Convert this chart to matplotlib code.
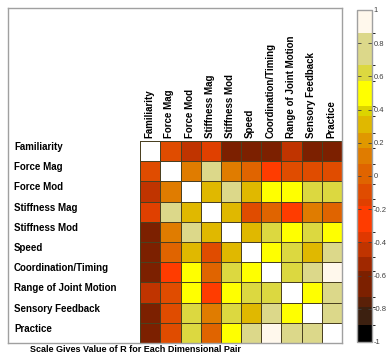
import numpy as np
import matplotlib
matplotlib.use("Agg")
import matplotlib.pyplot as plt
from matplotlib.colors import ListedColormap, BoundaryNorm
from matplotlib.cm import ScalarMappable

# dimension names, same order for rows and columns
dims = ["Familiarity", "Force Mag", "Force Mod", "Stiffness Mag", "Stiffness Mod",
        "Speed", "Coordination/Timing", "Range of Joint Motion", "Sensory Feedback",
        "Practice"]

# correlation coefficient R for each dimension pair
r_values = [
    [1.00, -0.08, -0.44, -0.16, -0.65, -0.65, -0.65, -0.44, -0.65, -0.65],
    [-0.08, 1.00, 0.12, 0.75, 0.12, 0.02, -0.25, -0.10, -0.06, -0.08],
    [-0.44, 0.12, 1.00, 0.30, 0.75, 0.30, 0.50, 0.50, 0.62, 0.62],
    [-0.16, 0.75, 0.30, 1.00, 0.30, -0.08, -0.04, -0.25, 0.12, 0.02],
    [-0.65, 0.12, 0.75, 0.30, 1.00, 0.30, 0.62, 0.50, 0.62, 0.50],
    [-0.65, 0.02, 0.30, -0.08, 0.30, 1.00, 0.50, 0.62, 0.30, 0.75],
    [-0.65, -0.25, 0.50, -0.04, 0.62, 0.50, 1.00, 0.62, 0.75, 0.92],
    [-0.44, -0.10, 0.50, -0.25, 0.50, 0.62, 0.62, 1.00, 0.50, 0.75],
    [-0.65, -0.06, 0.62, 0.12, 0.62, 0.30, 0.75, 0.50, 1.00, 0.75],
    [-0.65, -0.08, 0.62, 0.02, 0.50, 0.75, 0.92, 0.75, 0.75, 1.00],
]

cbar_ticks = [-1, -0.8, -0.6, -0.4, -0.2, 0, 0.2, 0.4, 0.6, 0.8, 1]
cbar_labels = ["-1", "-0.8", "-0.6", "-0.4", "-0.2", "0", "0.2", "0.4", "0.6", "0.8", "1"]

# stepped colour scale, dark brown for -1 up to cream for +1
band_edges = [-1, -0.9, -0.79, -0.73, -0.57, -0.49, -0.40, -0.34, -0.18, -0.14,
              -0.05, 0.07, 0.17, 0.26, 0.36, 0.42, 0.57, 0.67, 0.86, 1.0]
band_colors = ["#000000", "#3c2010", "#5a2008", "#7c2000", "#a02800", "#c03400",
               "#e03800", "#ff3c00", "#e04000", "#e04c00", "#e06400", "#e07c00",
               "#e09800", "#e0b800", "#dcd400", "#ffff00", "#dcd840", "#dcd88a",
               "#fff8ec"]


def main():
    plt.rcParams["font.family"] = ["Liberation Sans", "DejaVu Sans"]

    cmap = ListedColormap(band_colors)
    cmap.set_bad("white")
    norm = BoundaryNorm(band_edges, cmap.N)

    n = len(dims)
    r = np.array(r_values)
    r = np.ma.masked_where(np.eye(n, dtype=bool), r)  # blank diagonal

    fig = plt.figure(figsize=(3.86, 3.55), dpi=100)
    ax = fig.add_axes([8 / 386, 12 / 355, 334 / 386, 335 / 355])

    ax.pcolormesh(np.arange(n + 1), np.arange(n + 1), r, cmap=cmap, norm=norm,
                  edgecolors="#4a4020", linewidth=0.7)
    ax.set_xlim(-6.55, n)
    ax.set_ylim(n, -6.58)
    ax.set_xticks([])
    ax.set_yticks([])
    for sp in ax.spines.values():
        sp.set_color("#a0a0a0")
        sp.set_linewidth(1.0)

    for i, name in enumerate(dims):
        ax.text(-6.25, i + 0.3, name, ha="left", va="center",
                fontsize=7, fontweight="bold")
        ax.text(i + 0.45, -0.15, name, rotation=90, ha="center", va="bottom",
                fontsize=7, fontweight="bold")

    # colour bar on the right
    cax = fig.add_axes([357 / 386, 13 / 355, 15 / 386, 332 / 355])
    sm = ScalarMappable(norm=norm, cmap=cmap)
    cb = fig.colorbar(sm, cax=cax, spacing="proportional")
    cb.set_ticks(cbar_ticks, labels=cbar_labels)
    cb.ax.tick_params(direction="in", length=3, width=0.6, left=True, right=True,
                      labelsize=5.5, labelcolor="#404040", colors="#404040", pad=1)
    cb.outline.set_edgecolor("#a0a0a0")
    cb.outline.set_linewidth(1.0)

    fig.text(30 / 386, 1 - 349 / 355, "Scale Gives Value of R for Each Dimensional Pair",
             ha="left", va="center", fontsize=6.5, fontweight="bold")

    plt.savefig("out.png", dpi=100)


if __name__ == "__main__":
    main()
